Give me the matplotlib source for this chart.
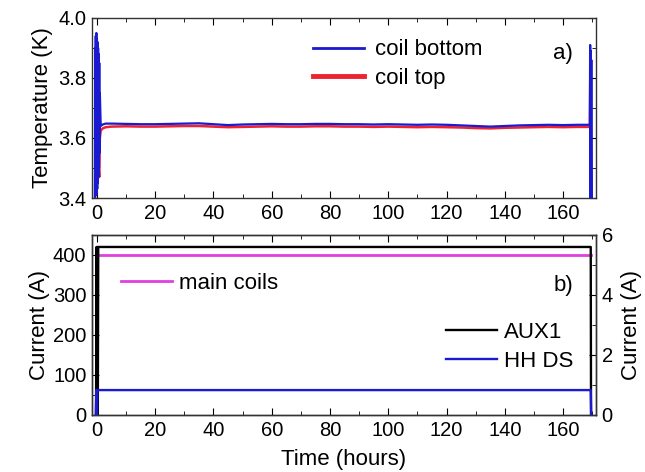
import matplotlib
matplotlib.use("Agg")
import matplotlib.pyplot as plt
from matplotlib.ticker import MultipleLocator
from matplotlib.lines import Line2D

plt.rcParams['font.family'] = ['Liberation Sans', 'DejaVu Sans']

# panel a) temperatures (K) vs time (hours)
t_bottom = [-0.7, -0.6, -0.5, -0.4, -0.3, -0.2, -0.1, 0.0, 0.1, 0.2, 0.3, 0.4,
            0.5, 0.6, 0.7, 0.8, 0.9, 1.0, 1.3, 2, 3, 5, 10, 15, 20, 25, 30, 35,
            40, 45, 50, 55, 60, 65, 70, 75, 80, 85, 90, 95, 100, 105, 110, 115, 120,
            125, 130, 135, 140, 145, 150, 155, 160, 165, 169.2, 169.3, 169.4,
            169.5, 169.6, 169.7, 169.8]
T_bottom = [3.40, 3.90, 3.41, 3.94, 3.42, 3.95, 3.41, 3.93, 3.43, 3.92, 3.45,
            3.90, 3.47, 3.88, 3.50, 3.85, 3.55, 3.75, 3.64, 3.645, 3.648, 3.648,
            3.647, 3.646, 3.646, 3.647, 3.648, 3.649, 3.646, 3.643, 3.645, 3.646,
            3.647, 3.646, 3.646, 3.647, 3.647, 3.646, 3.646, 3.645, 3.646, 3.645,
            3.644, 3.645, 3.644, 3.642, 3.640, 3.638, 3.640, 3.642, 3.643, 3.644,
            3.643, 3.644, 3.644, 3.91, 3.40, 3.89, 3.40, 3.86, 3.40]

t_top = [-0.6, -0.4, -0.2, 0.0, 0.2, 0.4, 0.6, 0.8, 1.0, 1.3, 2, 3, 5, 10, 15, 20,
         25, 30, 35, 40, 45, 50, 55, 60, 65, 70, 75, 80, 85, 90, 95, 100, 105, 110,
         115, 120, 125, 130, 135, 140, 145, 150, 155, 160, 165, 169.2, 169.4,
         169.6, 169.75]
T_top = [3.40, 3.85, 3.42, 3.88, 3.45, 3.80, 3.50, 3.47, 3.60, 3.625, 3.632, 3.636,
         3.638, 3.639, 3.638, 3.638, 3.639, 3.640, 3.640, 3.638, 3.636, 3.637,
         3.638, 3.639, 3.638, 3.638, 3.639, 3.639, 3.638, 3.638, 3.637, 3.638,
         3.637, 3.636, 3.637, 3.636, 3.635, 3.633, 3.632, 3.634, 3.635, 3.636,
         3.637, 3.636, 3.637, 3.637, 3.88, 3.40, 3.40]

# panel b) currents vs time (hours)
t_main = [0.4, 20, 40, 60, 80, 100, 120, 140, 160, 169.5]
I_main = [401, 401, 401, 401, 401, 401, 401, 401, 401, 401]

t_aux1 = [-0.3, -0.15, 0.0, 0.15, 0.3, 0.45, 169.5, 169.6, 169.7]
I_aux1 = [0.0, 5.6, 0.0, 5.6, 0.0, 5.6, 5.6, 0.0, 0.0]

t_hhds = [-0.4, -0.2, 0.0, 0.15, 0.3, 169.5, 169.65, 169.75]
I_hhds = [0.0, 0.83, 0.0, 0.83, 0.83, 0.83, 0.0, 0.0]

blue = '#1a1ad0'
red = '#ee2230'
magenta = '#e040e0'

fig = plt.figure(figsize=(6.45, 4.72), dpi=100)
ax1 = fig.add_axes([0.1426, 0.5805, 0.7814, 0.3814])
ax2 = fig.add_axes([0.1426, 0.1208, 0.7814, 0.3814])

tick_fs = 14.5
label_fs = 16

# --- panel a
ax1.plot(t_top, T_top, color=red, lw=1.8, zorder=2)
ax1.plot(t_bottom, T_bottom, color=blue, lw=1.6, zorder=3)
ax1.set_xlim(-1.7, 171.3)
ax1.set_ylim(3.4, 4.0)
ax1.xaxis.set_major_locator(MultipleLocator(20))
ax1.xaxis.set_minor_locator(MultipleLocator(10))
ax1.yaxis.set_major_locator(MultipleLocator(0.2))
ax1.yaxis.set_minor_locator(MultipleLocator(0.1))
ax1.yaxis.set_major_formatter(plt.FormatStrFormatter('%.1f'))
ax1.set_ylabel('Temperature (K)', fontsize=label_fs)
handles = [Line2D([], [], color=blue, lw=2), Line2D([], [], color=red, lw=3.5)]
ax1.legend(handles, ['coil bottom', 'coil top'], frameon=False, fontsize=label_fs,
           loc='upper left', bbox_to_anchor=(0.42, 0.93), handlelength=2.3,
           handletextpad=0.5, labelspacing=0.35, borderaxespad=0)
ax1.text(0.955, 0.80, 'a)', transform=ax1.transAxes, fontsize=label_fs,
         ha='right', va='center')

# --- panel b
ax2.plot(t_main, I_main, color=magenta, lw=2, label='main coils')
ax2.set_xlim(-1.7, 171.3)
ax2.set_ylim(0, 450)
ax2.xaxis.set_major_locator(MultipleLocator(20))
ax2.xaxis.set_minor_locator(MultipleLocator(10))
ax2.yaxis.set_major_locator(MultipleLocator(100))
ax2.yaxis.set_minor_locator(MultipleLocator(50))
ax2.set_ylabel('Current (A)', fontsize=label_fs, labelpad=2)
ax2.set_xlabel('Time (hours)', fontsize=label_fs, labelpad=7)
ax2.legend(frameon=False, fontsize=label_fs, loc='upper left',
           bbox_to_anchor=(0.04, 0.84), handlelength=2.3, handletextpad=0.3,
           borderaxespad=0)
ax2.text(0.955, 0.72, 'b)', transform=ax2.transAxes, fontsize=label_fs,
         ha='right', va='center')

ax3 = ax2.twinx()
ax3.plot(t_aux1, I_aux1, color='black', lw=1.7, label='AUX1')
ax3.plot(t_hhds, I_hhds, color=blue, lw=1.7, label='HH DS')
ax3.set_ylim(0, 6)
ax3.yaxis.set_major_locator(MultipleLocator(2))
ax3.yaxis.set_minor_locator(MultipleLocator(1))
ax3.set_ylabel('Current (A)', fontsize=label_fs, labelpad=6)
ax3.legend(frameon=False, fontsize=label_fs, loc='upper left',
           bbox_to_anchor=(0.685, 0.565), handlelength=2.3, handletextpad=0.3,
           labelspacing=0.35, borderaxespad=0)

for ax in (ax1, ax2):
    ax.tick_params(which='both', direction='in', top=True, labelsize=tick_fs, pad=4)
    ax.tick_params(which='major', length=5)
    ax.tick_params(which='minor', length=3)
ax1.tick_params(which='both', right=True)
ax3.tick_params(which='both', direction='in', labelsize=tick_fs, pad=4)
ax3.tick_params(which='major', length=5)
ax3.tick_params(which='minor', length=3)

for ax in (ax1, ax2, ax3):
    for s in ax.spines.values():
        s.set_color('#333333')
        s.set_linewidth(1.0)

fig.savefig('out.png', dpi=100)
